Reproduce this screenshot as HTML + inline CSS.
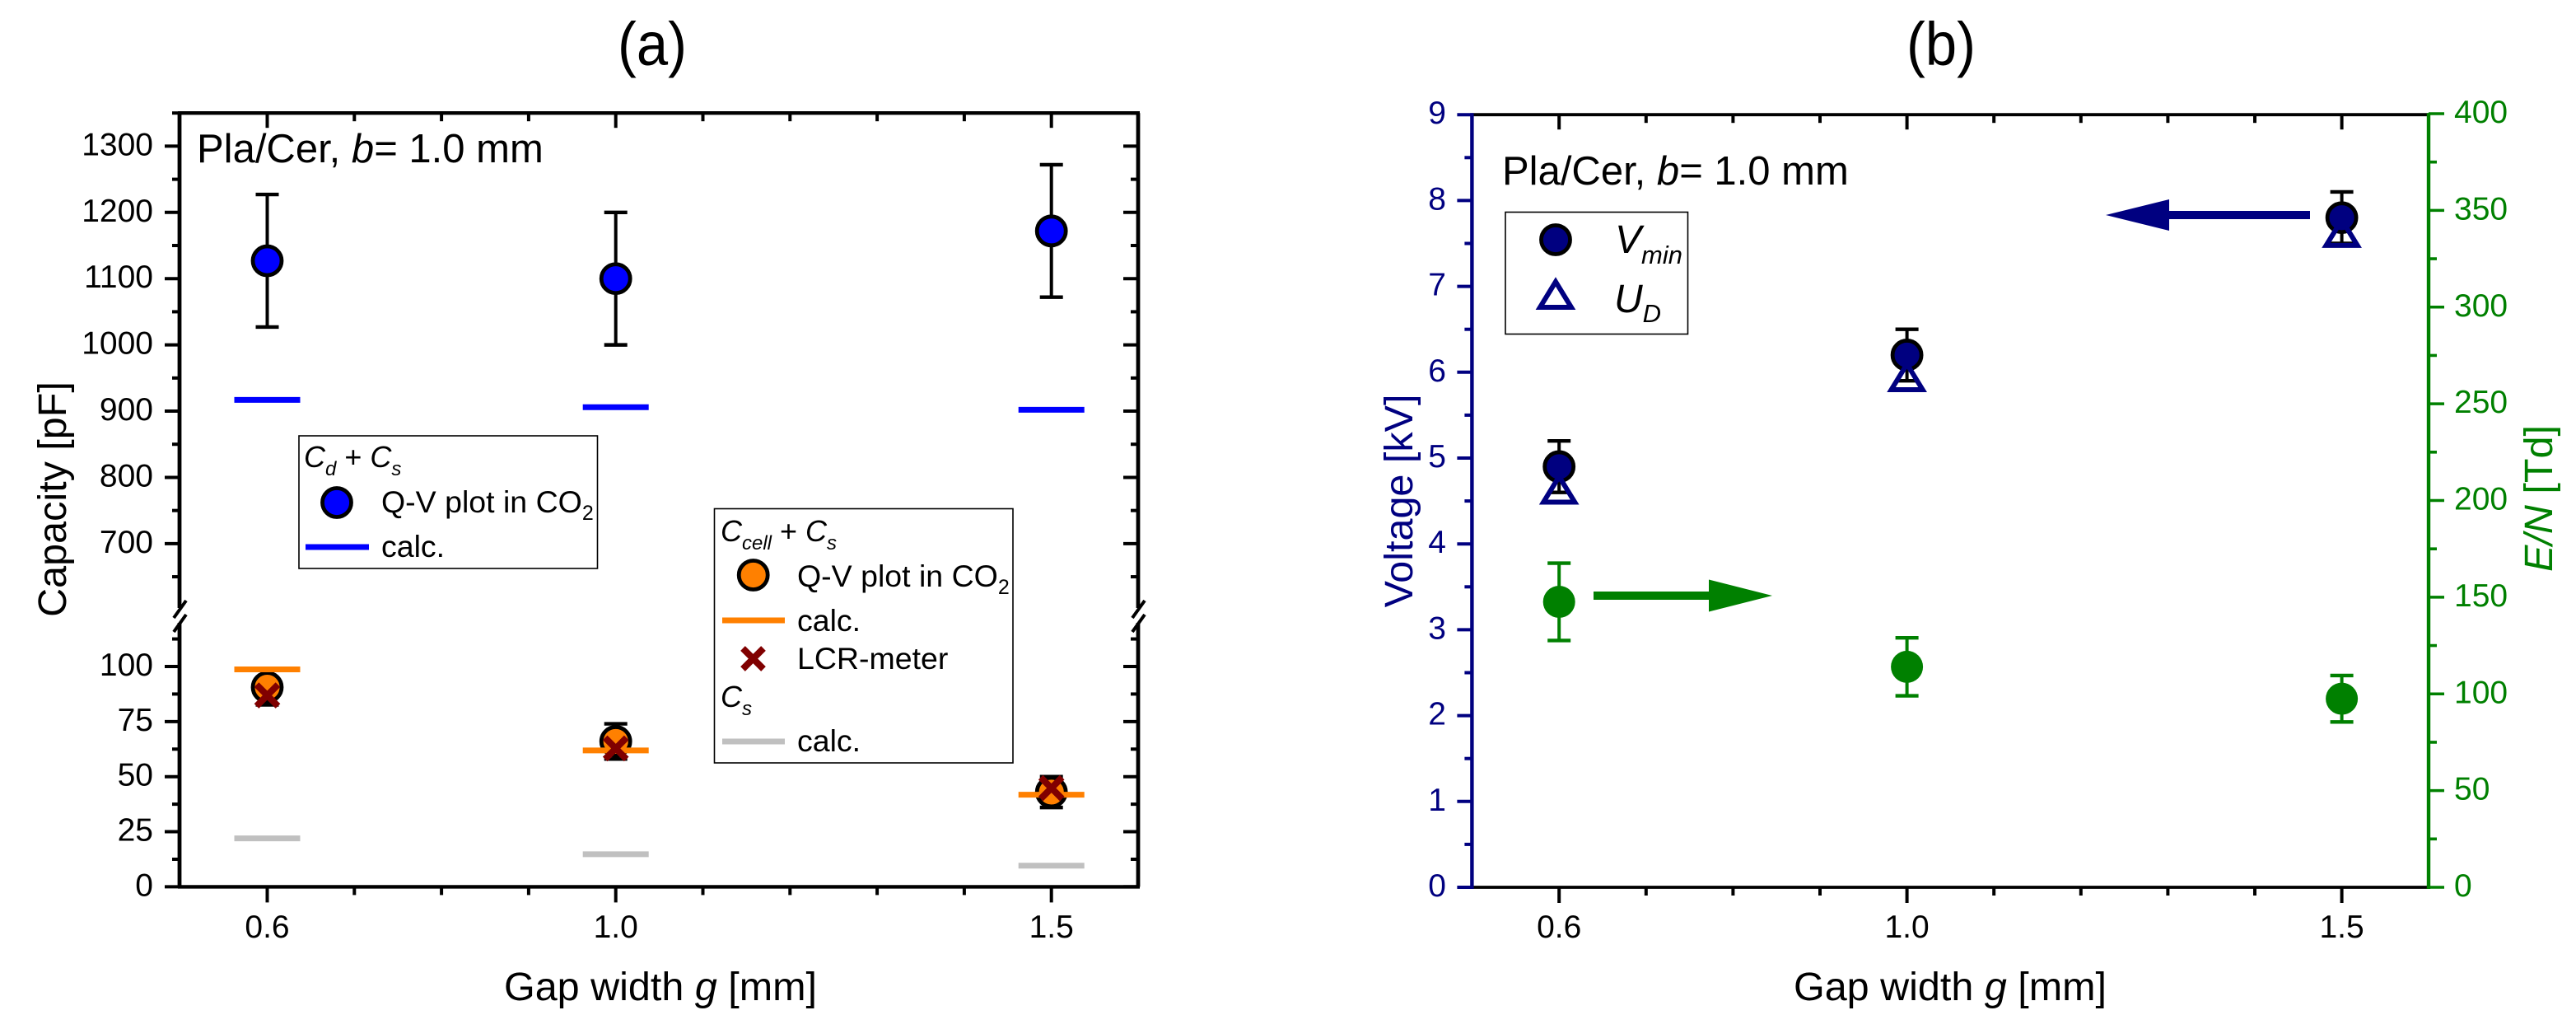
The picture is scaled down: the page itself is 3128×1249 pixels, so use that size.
<!DOCTYPE html>
<html lang="en">
<head>
<meta charset="utf-8">
<title>Capacity and voltage versus gap width</title>
<style>
  html, body { margin: 0; padding: 0; background: #fff; }
  svg { display: block; }
  text { font-family: "Liberation Sans", sans-serif; fill: #000; }
  .tick-label { font-size: 39px; }
  .axis-title { font-size: 48.5px; }
  .inset { font-size: 49px; }
  .legend { font-size: 37.5px; }
  .legend-head { font-size: 36px; }
  .legend-box { fill: #fff; stroke: #000; stroke-width: 1.6; }
  .i { font-style: italic; }
</style>
</head>
<body>
<svg id="figure" xmlns="http://www.w3.org/2000/svg" width="3128" height="1249" viewBox="0 0 3128 1249">
  <rect x="0" y="0" width="3128" height="1249" fill="#fff"/>

  <text x="792" y="79" font-size="74" text-anchor="middle" textLength="84" lengthAdjust="spacingAndGlyphs">(a)</text>
  <text x="2357" y="79" font-size="74" text-anchor="middle" textLength="84" lengthAdjust="spacingAndGlyphs">(b)</text>

  <g id="panel-a"></g>
  <g id="panel-b"></g>

  <text class="axis-title" x="802" y="1214" text-anchor="middle">Gap width <tspan class="i">g</tspan> [mm]</text>
  <text class="axis-title" transform="translate(80 606) rotate(-90)" text-anchor="middle">Capacity [pF]</text>
  <text class="inset" x="239" y="197">Pla/Cer, <tspan class="i">b</tspan>= 1.0 mm</text>

  <text class="axis-title" x="2368" y="1214" text-anchor="middle">Gap width <tspan class="i">g</tspan> [mm]</text>
  <text class="axis-title" transform="translate(1715 608) rotate(-90)" text-anchor="middle" style="fill:#000080">Voltage [kV]</text>
  <text class="axis-title" transform="translate(3099 605) rotate(-90)" text-anchor="middle" style="fill:#008000"><tspan class="i">E/N</tspan> [Td]</text>
  <text class="inset" x="1824" y="224">Pla/Cer, <tspan class="i">b</tspan>= 1.0 mm</text>

  <g>
    <rect class="legend-box" x="363" y="529" width="362.5" height="161"/>
    <text class="legend-head i" x="369" y="567">C<tspan font-size="24" dy="10">d</tspan><tspan dy="-10" style="font-style:normal"> + </tspan>C<tspan font-size="24" dy="10">s</tspan></text>
    <circle cx="409" cy="610" r="17.5" fill="#0000FF" stroke="#000" stroke-width="4.8"/>
    <text class="legend" x="463" y="622">Q-V plot in CO<tspan font-size="25" dy="9">2</tspan></text>
    <line x1="371" y1="664" x2="448" y2="664" stroke="#0000FF" stroke-width="7"/>
    <text class="legend" x="463" y="676">calc.</text>
  </g>

  <g>
    <rect class="legend-box" x="867.5" y="617.5" width="362.5" height="308.5"/>
    <text class="legend-head i" x="875" y="657">C<tspan font-size="24" dy="10">cell</tspan><tspan dy="-10" style="font-style:normal"> + </tspan>C<tspan font-size="24" dy="10">s</tspan></text>
    <circle cx="914.7" cy="698" r="17.5" fill="#FF8000" stroke="#000" stroke-width="4.8"/>
    <text class="legend" x="968" y="712">Q-V plot in CO<tspan font-size="25" dy="9">2</tspan></text>
    <line x1="877" y1="753" x2="953" y2="753" stroke="#FF8000" stroke-width="7"/>
    <text class="legend" x="968" y="766">calc.</text>
    <path d="M902 787 L927 812 M927 787 L902 812" stroke="#800000" stroke-width="8" fill="none"/>
    <text class="legend" x="968" y="812">LCR-meter</text>
    <text class="legend-head i" x="875" y="858">C<tspan font-size="24" dy="10">s</tspan></text>
    <line x1="877" y1="900" x2="953" y2="900" stroke="#C0C0C0" stroke-width="7"/>
    <text class="legend" x="968" y="912">calc.</text>
  </g>

  <g>
    <rect class="legend-box" x="1828" y="257.5" width="221.5" height="148"/>
    <circle cx="1889" cy="291" r="17.5" fill="#000080" stroke="#000" stroke-width="4.8"/>
    <text class="inset i" x="1961" y="307" style="font-size:48px">V<tspan font-size="31" dy="13">min</tspan></text>
    <polygon points="1889,342 1870,373 1908,373" fill="none" stroke="#000080" stroke-width="6"/>
    <text class="inset i" x="1960" y="379" style="font-size:48px">U<tspan font-size="31" dy="12">D</tspan></text>
  </g>
</svg>

<script>
// ---------- shared category data ----------
const gapWidths = [0.6, 1.0, 1.5];
const gapLabels = ['0.6', '1.0', '1.5'];
const gapMinorTicks = [0.7, 0.8, 0.9, 1.1, 1.2, 1.3, 1.4];

// ---------- panel (a): capacity data (pF) ----------
const qvTotal = [1127, 1100, 1172];
const qvTotalError = [100, 100, 100];
const calcTotal = [917, 906, 902];
const qvCell = [90.6, 66, 43];
const qvCellError = [8, 8, 7];
const calcCell = [98.7, 61.9, 41.8];
const lcrMeter = [86.9, 62.8, 44.8];
const calcStray = [22, 14.8, 9.6];

// ---------- panel (a): tick values ----------
const upperMajorTicks = [700, 800, 900, 1000, 1100, 1200, 1300];
const upperMinorTicks = [650, 750, 850, 950, 1050, 1150, 1250, 1350];
const lowerMajorTicks = [0, 25, 50, 75, 100];
const lowerMinorTicks = [12.5, 37.5, 62.5, 87.5, 112.5];

// ---------- panel (b): voltage and field data ----------
const vMin = [4.9, 6.2, 7.8];
const vMinError = [0.3, 0.3, 0.3];
const uD = [4.65, 5.96, 7.64];
const reducedField = [147.6, 114, 97.5];
const reducedFieldError = [20, 15, 12];

// ---------- panel (b): tick values ----------
const voltageMajorTicks = [0, 1, 2, 3, 4, 5, 6, 7, 8, 9];
const voltageMinorTicks = [0.5, 1.5, 2.5, 3.5, 4.5, 5.5, 6.5, 7.5, 8.5];
const fieldMajorTicks = [0, 50, 100, 150, 200, 250, 300, 350, 400];
const fieldMinorTicks = [25, 75, 125, 175, 225, 275, 325, 375];

// ---------- axis functions ----------
const xA = v => 324.5 + (v - 0.6) * 1058;
const yUpper = v => 177.4 + (1300 - v) * 0.8041;
const yLower = v => 1076.4 - v * 2.674;
const xB = v => 1893.2 + (v - 0.6) * 1056;
const yVolt = v => 1077 - v * 104.2;
const yField = v => 1077 - v * 2.3475;

const SVG_NS = 'http://www.w3.org/2000/svg';
const panelA = document.getElementById('panel-a');
const panelB = document.getElementById('panel-b');

function addShape(parent, tag, props) {
  const el = document.createElementNS(SVG_NS, tag);
  for (const key in props) el.setAttribute(key, props[key]);
  parent.appendChild(el);
  return el;
}

function addLine(parent, name, x1, y1, x2, y2, color, width) {
  const el = addShape(parent, 'line', { x1: x1, y1: y1, x2: x2, y2: y2, stroke: color, 'stroke-width': width });
  
  
  return el;
}

function addLabel(parent, name, x, y, str, anchor, color) {
  const el = addShape(parent, 'text', { x: x, y: y, 'text-anchor': anchor, class: 'tick-label' });
  el.style.fill = color;
  el.textContent = str;
  
  
  return el;
}

function addCircle(parent, name, x, y, r, fill, stroke, strokeWidth) {
  const el = addShape(parent, 'circle', { cx: x, cy: y, r: r, fill: fill, stroke: stroke, 'stroke-width': strokeWidth });
  
  
  return el;
}

function addErrorBar(parent, name, x, yTop, yBottom, color) {
  const bar = addShape(parent, 'g', {});
  
  
  addLine(bar, name + '-stem', x, yTop, x, yBottom, color, 4);
  addLine(bar, name + '-cap-top', x - 14, yTop, x + 14, yTop, color, 4.4);
  addLine(bar, name + '-cap-bottom', x - 14, yBottom, x + 14, yBottom, color, 4.4);
}

function addArrow(parent, name, pointString, color) {
  const el = addShape(parent, 'polygon', { points: pointString, fill: color });
  
  
  return el;
}

// ---------- panel (a) axes ----------
const axisA = 4.8;
const leftA = 218, rightA = 1382;
const topA = yUpper(1350), bottomA = yLower(0);

addLine(panelA, 'a-top-axis', leftA - 2, topA, rightA + 2, topA, '#000', 4.4);
addLine(panelA, 'a-x-axis', leftA - 2, bottomA, rightA + 2, bottomA, '#000', 4.4);
addLine(panelA, 'a-left-axis-upper', leftA, topA, leftA, 738, '#000', axisA);
addLine(panelA, 'a-left-axis-lower', leftA, 756, leftA, bottomA, '#000', axisA);
addLine(panelA, 'a-right-axis-upper', rightA, topA, rightA, 738, '#000', axisA);
addLine(panelA, 'a-right-axis-lower', rightA, 756, rightA, bottomA, '#000', axisA);

[leftA, rightA].forEach(function (edge) {
  addLine(panelA, 'a-axis-break-mark-upper', edge - 7, 750, edge + 8, 729, '#000', 4);
  addLine(panelA, 'a-axis-break-mark-lower', edge - 7, 767, edge + 8, 746, '#000', 4);
});

upperMajorTicks.forEach(function (v) {
  addLine(panelA, 'a-y-tick-' + v, leftA - 18, yUpper(v), leftA, yUpper(v), '#000', 4);
  addLine(panelA, 'a-right-tick-' + v, rightA - 18, yUpper(v), rightA, yUpper(v), '#000', 4);
  addLabel(panelA, 'a-y-label-' + v, 186, yUpper(v) + 11, String(v), 'end', '#000');
});
upperMinorTicks.forEach(function (v) {
  addLine(panelA, 'a-y-minor-tick-' + v, leftA - 9, yUpper(v), leftA, yUpper(v), '#000', 4);
  addLine(panelA, 'a-right-minor-tick-' + v, rightA - 9, yUpper(v), rightA, yUpper(v), '#000', 4);
});
lowerMajorTicks.forEach(function (v) {
  addLine(panelA, 'a-y-tick-' + v, leftA - 18, yLower(v), leftA, yLower(v), '#000', 4);
  addLine(panelA, 'a-right-tick-' + v, rightA - 18, yLower(v), rightA, yLower(v), '#000', 4);
  addLabel(panelA, 'a-y-label-' + v, 186, yLower(v) + 11, String(v), 'end', '#000');
});
lowerMinorTicks.forEach(function (v) {
  addLine(panelA, 'a-y-minor-tick-' + v, leftA - 9, yLower(v), leftA, yLower(v), '#000', 4);
  addLine(panelA, 'a-right-minor-tick-' + v, rightA - 9, yLower(v), rightA, yLower(v), '#000', 4);
});
gapWidths.forEach(function (v, i) {
  addLine(panelA, 'a-x-tick-' + gapLabels[i], xA(v), bottomA, xA(v), bottomA + 19, '#000', 4);
  addLine(panelA, 'a-top-tick-' + gapLabels[i], xA(v), topA, xA(v), topA + 18, '#000', 4);
  addLabel(panelA, 'a-x-label-' + gapLabels[i], xA(v), 1138, gapLabels[i], 'middle', '#000');
});
gapMinorTicks.forEach(function (v) {
  addLine(panelA, 'a-x-minor-tick-' + v, xA(v), bottomA, xA(v), bottomA + 10, '#000', 4);
  addLine(panelA, 'a-top-minor-tick-' + v, xA(v), topA, xA(v), topA + 10, '#000', 4);
});

// ---------- panel (a) series ----------
gapWidths.forEach(function (g, i) {
  const x = xA(g);
  addErrorBar(panelA, 'qv-total-error-' + gapLabels[i], x, yUpper(qvTotal[i] + qvTotalError[i]), yUpper(qvTotal[i] - qvTotalError[i]), '#000');
  addCircle(panelA, 'qv-total-point-' + gapLabels[i], x, yUpper(qvTotal[i]), 17.5, '#0000FF', '#000', 4.8);
  addLine(panelA, 'calc-total-bar-' + gapLabels[i], x - 40, yUpper(calcTotal[i]), x + 40, yUpper(calcTotal[i]), '#0000FF', 7);

  addErrorBar(panelA, 'qv-cell-error-' + gapLabels[i], x, yLower(qvCell[i] + qvCellError[i]), yLower(qvCell[i] - qvCellError[i]), '#000');
  addCircle(panelA, 'qv-cell-point-' + gapLabels[i], x, yLower(qvCell[i]), 17.5, '#FF8000', '#000', 4.8);
  addLine(panelA, 'calc-cell-bar-' + gapLabels[i], x - 40, yLower(calcCell[i]), x + 40, yLower(calcCell[i]), '#FF8000', 7);

  const yL = yLower(lcrMeter[i]);
  addLine(panelA, 'lcr-point-' + gapLabels[i] + '-stroke-a', x - 13, yL - 13, x + 13, yL + 13, '#800000', 8);
  addLine(panelA, 'lcr-point-' + gapLabels[i] + '-stroke-b', x + 13, yL - 13, x - 13, yL + 13, '#800000', 8);

  addLine(panelA, 'calc-stray-bar-' + gapLabels[i], x - 40, yLower(calcStray[i]), x + 40, yLower(calcStray[i]), '#C0C0C0', 7);
});

// ---------- panel (b) axes ----------
const leftB = 1787.4, rightB = 2949;
const topB = yVolt(9), bottomB = yVolt(0);
const navy = '#000080', green = '#008000';

addLine(panelB, 'b-top-axis', leftB, topB, rightB, topB, '#000', 3.8);
addLine(panelB, 'b-x-axis', leftB, bottomB, rightB, bottomB, '#000', 3.8);
addLine(panelB, 'b-left-axis', leftB, topB - 2, leftB, bottomB + 2, navy, 4.4);
addLine(panelB, 'b-right-axis', rightB, topB - 2, rightB, bottomB + 2, green, 4.4);

voltageMajorTicks.forEach(function (v) {
  addLine(panelB, 'b-left-tick-' + v, leftB - 18, yVolt(v), leftB, yVolt(v), navy, 4);
  addLabel(panelB, 'b-left-label-' + v, 1756, yVolt(v) + 11, String(v), 'end', navy);
});
voltageMinorTicks.forEach(function (v) {
  addLine(panelB, 'b-left-minor-tick-' + v, leftB - 9, yVolt(v), leftB, yVolt(v), navy, 4);
});
fieldMajorTicks.forEach(function (v) {
  addLine(panelB, 'b-right-tick-' + v, rightB, yField(v), rightB + 19, yField(v), green, 3.6);
  addLabel(panelB, 'b-right-label-' + v, 2980, yField(v) + 11, String(v), 'start', green);
});
fieldMinorTicks.forEach(function (v) {
  addLine(panelB, 'b-right-minor-tick-' + v, rightB, yField(v), rightB + 10, yField(v), green, 3.6);
});
gapWidths.forEach(function (v, i) {
  addLine(panelB, 'b-x-tick-' + gapLabels[i], xB(v), bottomB, xB(v), bottomB + 19, '#000', 4);
  addLine(panelB, 'b-top-tick-' + gapLabels[i], xB(v), topB, xB(v), topB + 18, '#000', 4);
  addLabel(panelB, 'b-x-label-' + gapLabels[i], xB(v), 1138, gapLabels[i], 'middle', '#000');
});
gapMinorTicks.forEach(function (v) {
  addLine(panelB, 'b-x-minor-tick-' + v, xB(v), bottomB, xB(v), bottomB + 10, '#000', 4);
  addLine(panelB, 'b-top-minor-tick-' + v, xB(v), topB, xB(v), topB + 10, '#000', 4);
});

// ---------- panel (b) series ----------
gapWidths.forEach(function (g, i) {
  const x = xB(g);
  addErrorBar(panelB, 'vmin-error-' + gapLabels[i], x, yVolt(vMin[i] + vMinError[i]), yVolt(vMin[i] - vMinError[i]), '#000');
  addCircle(panelB, 'vmin-point-' + gapLabels[i], x, yVolt(vMin[i]), 17.5, navy, '#000', 4.8);

  const yU = yVolt(uD[i]);
  const tri = addShape(panelB, 'polygon', {
    points: x + ',' + (yU - 14) + ' ' + (x - 19) + ',' + (yU + 17) + ' ' + (x + 19) + ',' + (yU + 17),
    fill: 'none', stroke: navy, 'stroke-width': 6
  });
  
  

  addErrorBar(panelB, 'field-error-' + gapLabels[i], x, yField(reducedField[i] + reducedFieldError[i]), yField(reducedField[i] - reducedFieldError[i]), green);
  addCircle(panelB, 'field-point-' + gapLabels[i], x, yField(reducedField[i]), 19.5, green, 'none', 0);
});

// Annotation arrows pointing at the axis each series belongs to
addArrow(panelB, 'arrow-to-field-axis', '1935,718 2075,718 2075,703.5 2152,723 2075,742.5 2075,728 1935,728', green);
addArrow(panelB, 'arrow-to-voltage-axis', '2805,256 2634,256 2634,242 2557,261 2634,280 2634,266 2805,266', navy);
</script>
</body>
</html>
